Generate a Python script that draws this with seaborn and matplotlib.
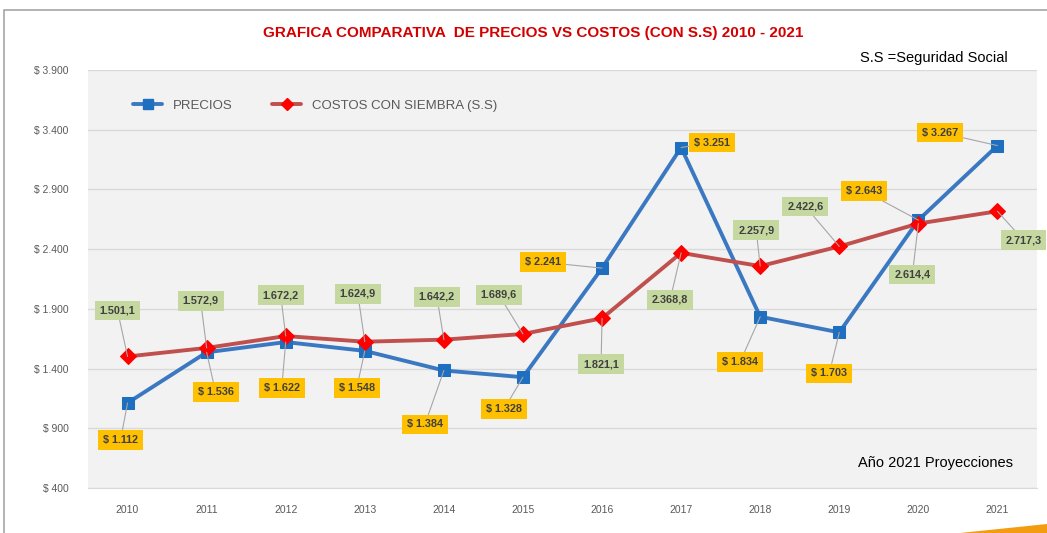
import seaborn as sns
import pandas as pd
import matplotlib.pyplot as plt
from matplotlib.lines import Line2D
from matplotlib.patches import Rectangle, Polygon

years = [2010, 2011, 2012, 2013, 2014, 2015, 2016, 2017, 2018, 2019, 2020, 2021]
precios = [1112, 1536, 1622, 1548, 1384, 1328, 2241, 3251, 1834, 1703, 2643, 3267]
costos = [1501.1, 1572.9, 1672.2, 1624.9, 1642.2, 1689.6, 1821.1, 2368.8, 2257.9, 2422.6, 2614.4, 2717.3]
y_ticks = [400, 900, 1400, 1900, 2400, 2900, 3400, 3900]

# label offsets in pixels (label centre relative to point)
off_precios = [(-7, -37), (9, -40), (-4, -46), (-8, -37), (-19, -54), (-19, -32),
               (-59, 6), (31, 5), (-20, -45), (-10, -41), (-54, 29), (-57, 13)]
off_costos = [(-10, 46), (-6, 47), (-5, 41), (-7, 48), (-7, 43), (-24, 39),
              (-1, -46), (-11, -47), (-4, 36), (-34, 40), (-6, -51), (26, -29)]

sns.set_style("white")
plt.rcParams['font.family'] = ['Liberation Sans', 'DejaVu Sans']

BLUE = "#3b78c2"
BLUE_M = "#1f6fc0"
RED = "#c0504d"
RED_M = "#ff0000"


def fmt_price(v):
    return "$ " + "{:,.0f}".format(v).replace(",", ".")


def fmt_cost(v):
    s = "{:,.1f}".format(v)
    return s.replace(",", "X").replace(".", ",").replace("X", ".")


fig = plt.figure(figsize=(10.47, 5.33), dpi=100)
fig.patches.append(Rectangle((4 / 1047, -0.05), 1.1, 1 - 10 / 533 + 0.05,
                             transform=fig.transFigure, fill=False,
                             edgecolor="#a6a6a6", linewidth=1.2))
# orange swoosh bottom right
fig.patches.append(Polygon([(960 / 1047, 0.0), (1047 / 1047, 9 / 533), (1.0, 0.0)],
                           closed=True, transform=fig.transFigure,
                           facecolor="#f39c12", edgecolor="none"))
ax = fig.add_axes([88 / 1047, 1 - 488 / 533, (1037 - 88) / 1047, (488 - 70) / 533])
ax.set_facecolor("#f2f2f2")

df = pd.DataFrame({"Año": years, "PRECIOS": precios, "COSTOS": costos})

sns.lineplot(data=df, x="Año", y="PRECIOS", ax=ax, color=BLUE, linewidth=2.8,
             marker="s", markersize=9, markerfacecolor=BLUE_M,
             markeredgecolor=BLUE_M, zorder=3)
sns.lineplot(data=df, x="Año", y="COSTOS", ax=ax, color=RED, linewidth=2.8,
             marker="D", markersize=8, markerfacecolor=RED_M,
             markeredgecolor=RED_M, zorder=4)

ax.set_xlim(years[0] - 0.5, years[-1] + 0.5)
ax.set_ylim(400, 3900)
ax.set_xticks(years)
ax.set_xticklabels([str(y) for y in years], fontsize=7.5, color="#595959")
ax.set_yticks(y_ticks)
ax.set_yticklabels([fmt_price(v) for v in y_ticks], fontsize=7.5, color="#595959")
ax.tick_params(axis="both", length=0, pad=12)
ax.tick_params(axis="y", pad=14)
ax.grid(axis="y", color="#d9d9d9", linewidth=1)
ax.set_axisbelow(True)
for s in ["top", "right", "left"]:
    ax.spines[s].set_visible(False)
ax.spines["bottom"].set_color("#d9d9d9")
ax.set_xlabel("")
ax.set_ylabel("")

for i, yr in enumerate(years):
    ax.annotate(fmt_price(precios[i]), xy=(yr, precios[i]), xytext=off_precios[i],
                textcoords="offset pixels", ha="center", va="center",
                fontsize=7.8, fontweight="bold", color="#404040", zorder=6,
                bbox=dict(boxstyle="square,pad=0.45", fc="#ffc000", ec="none"),
                arrowprops=dict(arrowstyle="-", color="#a6a6a6", lw=0.8,
                                shrinkA=0, shrinkB=0))
    ax.annotate(fmt_cost(costos[i]), xy=(yr, costos[i]), xytext=off_costos[i],
                textcoords="offset pixels", ha="center", va="center",
                fontsize=7.8, fontweight="bold", color="#404040", zorder=6,
                bbox=dict(boxstyle="square,pad=0.45", fc="#c4d89f", ec="none"),
                arrowprops=dict(arrowstyle="-", color="#a6a6a6", lw=0.8,
                                shrinkA=0, shrinkB=0))

handles = [Line2D([], [], color=BLUE, lw=2.8, marker="s", markersize=7,
                  markerfacecolor=BLUE_M, markeredgecolor=BLUE_M),
           Line2D([], [], color=RED, lw=2.8, marker="D", markersize=6,
                  markerfacecolor=RED_M, markeredgecolor=RED_M)]
leg = ax.legend(handles, ["PRECIOS", "COSTOS CON SIEMBRA (S.S)"], ncol=2,
                loc="center left", bbox_to_anchor=(0.035, 0.915), frameon=False,
                fontsize=9.5, handlelength=2.2, columnspacing=3)
for t in leg.get_texts():
    t.set_color("#595959")

fig.text(533 / 1047, 1 - 33 / 533, "GRAFICA COMPARATIVA  DE PRECIOS VS COSTOS (CON S.S) 2010 - 2021",
         ha="center", va="center", fontsize=11, fontweight="bold", color="#d40000")
fig.text(1008 / 1047, 1 - 58 / 533, "S.S =Seguridad Social", ha="right", va="center",
         fontsize=10.5, color="#000000")
ax.text(0.975, 0.06, "Año 2021 Proyecciones", transform=ax.transAxes, ha="right",
        va="center", fontsize=10.5, color="#000000")

fig.savefig("out.png", dpi=100)
